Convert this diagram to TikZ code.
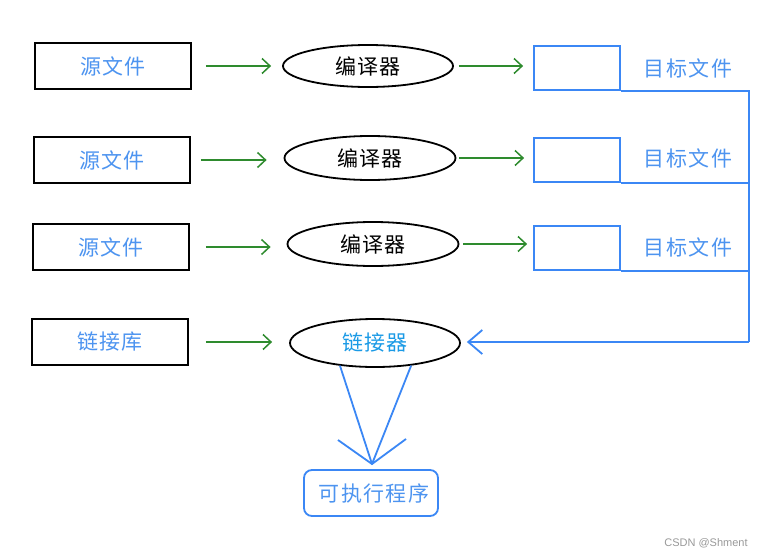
\documentclass[tikz,border=0pt]{standalone}
\usepackage{fontspec}
\usetikzlibrary{arrows.meta,shapes.geometric}
\newfontfamily\cjk[LetterSpace=7]{Noto Sans CJK SC}
\newfontfamily\wmfont{Liberation Sans}
\definecolor{srcblue}{HTML}{4D94F0}
\definecolor{lnkblue}{HTML}{1A9AE6}
\definecolor{lineblue}{HTML}{3B87F5}
\definecolor{grn}{HTML}{2E8B2E}
\begin{document}
\begin{tikzpicture}[x=1pt,y=-1pt,
  cjkfont/.style={font=\cjk\fontsize{21}{25}\selectfont},
  srcbox/.style={draw=black,line width=1.8pt,minimum width=156pt,minimum height=46pt,inner sep=0pt,text=srcblue,cjkfont},
  ell/.style={ellipse,draw=black,line width=1.8pt,inner sep=0pt,cjkfont,text=black},
  tgtbox/.style={draw=lineblue,line width=1.8pt,minimum width=86pt,minimum height=44pt,inner sep=0pt},
  tgtlabel/.style={text=srcblue,cjkfont,inner sep=0pt},
  garrow/.style={draw=grn,line width=1.5pt,-{Straight Barb[length=8pt,width=15pt,line width=1.5pt]}},
  blueline/.style={draw=lineblue,line width=1.8pt},
  barrow/.style={draw=lineblue,line width=1.8pt,-{Straight Barb[length=14pt,width=24pt,line width=1.8pt]}}
]
\useasboundingbox[fill=white] (0,0) rectangle (763,557);

% sources
\node[srcbox] (s1) at (113,66) {源文件};
\node[srcbox] (s2) at (112,160) {源文件};
\node[srcbox] (s3) at (111,247) {源文件};
\node[srcbox] (s4) at (110,342) {链接库};

% compilers
\node[ell,minimum width=170pt,minimum height=42pt] (c1) at (368,66) {编译器};
\node[ell,minimum width=171pt,minimum height=44pt] (c2) at (370,158) {编译器};
\node[ell,minimum width=171pt,minimum height=44pt] (c3) at (373,244) {编译器};
\node[ell,minimum width=170pt,minimum height=48pt,text=lnkblue] (link) at (375,343) {链接器};

% targets
\node[tgtbox] (t1) at (577,68) {};
\node[tgtbox] (t2) at (577,160) {};
\node[tgtbox] (t3) at (577,248) {};
\node[tgtlabel] (l1) at (688,68) {目标文件};
\node[tgtlabel] (l2) at (688,158) {目标文件};
\node[tgtlabel] (l3) at (688,247) {目标文件};

% executable
\node[draw=lineblue,line width=1.8pt,rounded corners=8pt,minimum width=134pt,minimum height=46pt,inner sep=0pt,text=srcblue,cjkfont] (exe) at (371,493) {\hspace{6pt}可执行程序};

% green arrows
\draw[garrow,shorten <=14pt,shorten >=11pt] (s1.east) -- (s1.east -| c1.west);
\draw[garrow,shorten <=10pt,shorten >=17pt] (s2.east) -- (s2.east -| c2.west);
\draw[garrow,shorten <=16pt,shorten >=16pt] (s3.east) -- (s3.east -| c3.west);
\draw[garrow,shorten <=17pt,shorten >=17pt] (s4.east) -- (s4.east -| link.west);
\draw[garrow,shorten <=5pt,shorten >=10pt] (c1.east) -- (c1.east -| t1.west);
\draw[garrow,shorten <=3pt,shorten >=9pt] (c2.east) -- (c2.east -| t2.west);
\draw[garrow,shorten <=4pt,shorten >=6pt] (c3.east) -- (c3.east -| t3.west);

% bus
\coordinate (bus) at (749,342);
\draw[blueline] (t1.south east) -| (bus);
\draw[blueline] (t2.south east) -- (t2.south east -| bus);
\draw[blueline] (t3.south east) -- (t3.south east -| bus);
\draw[barrow,shorten >=6pt] (bus) -- (bus -| link.east);

% linker to executable
\coordinate (tip) at (372,464);
\coordinate (barbL) at (338,440);
\coordinate (barbR) at (406,439);
\draw[blueline] (link.213) -- (tip);
\draw[blueline] (link.328) -- (tip);
\draw[blueline,line join=miter] (barbL) -- (tip) -- (barbR);

% watermark
\node[text=gray!80,font=\wmfont\fontsize{11}{13}\selectfont,inner sep=0pt] (wm) at (706,543) {CSDN @Shment};
\end{tikzpicture}
\end{document}
